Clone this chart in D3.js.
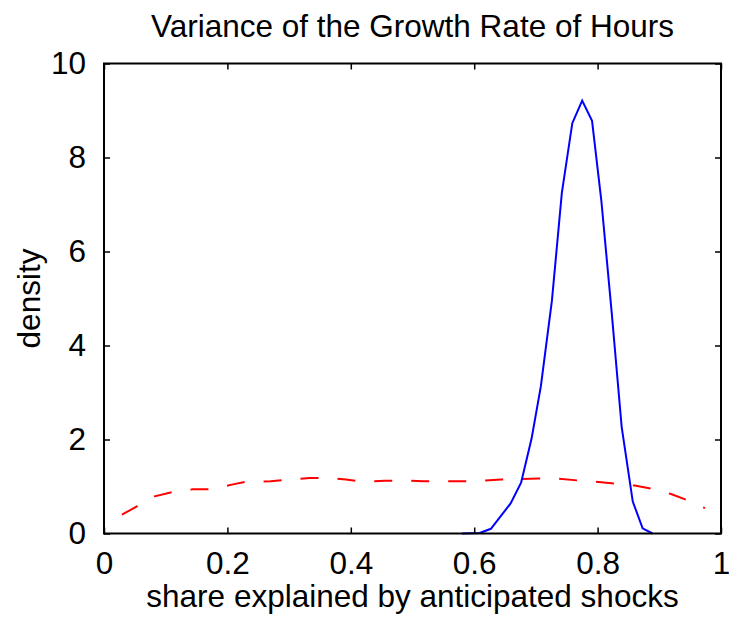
<!DOCTYPE html>
<html>
<head>
<meta charset="utf-8">
<script src="https://cdn.jsdelivr.net/npm/d3@7"></script>
<style>
  body { margin: 0; background: #fff; }
  svg { display: block; font-family: "Liberation Sans", Arial, Helvetica, sans-serif; }
</style>
</head>
<body>
<svg width="729" height="620"></svg>
<script>
// anticipated-shock share, posterior density (blue solid)
const postX = [0.580, 0.609, 0.627, 0.659, 0.676, 0.693, 0.708, 0.726, 0.742, 0.759,
               0.775, 0.791, 0.806, 0.823, 0.839, 0.857, 0.873, 0.889];
const postY = [0.00, 0.01, 0.10, 0.64, 1.08, 2.02, 3.13, 4.96, 7.24, 8.73,
               9.21, 8.78, 7.09, 4.68, 2.27, 0.68, 0.11, 0.00];

// prior density (red dashed)
const priorX = [0.029, 0.054, 0.082, 0.114, 0.144, 0.173, 0.207, 0.230, 0.270, 0.299,
                0.333, 0.359, 0.392, 0.422, 0.455, 0.485, 0.518, 0.545, 0.578, 0.611,
                0.644, 0.674, 0.704, 0.734, 0.767, 0.797, 0.830, 0.860, 0.890, 0.919,
                0.949, 0.974];
const priorY = [0.40, 0.58, 0.79, 0.89, 0.94, 0.94, 1.04, 1.10, 1.11, 1.15,
                1.18, 1.18, 1.15, 1.10, 1.12, 1.13, 1.11, 1.11, 1.11, 1.12,
                1.15, 1.16, 1.17, 1.17, 1.13, 1.10, 1.06, 1.02, 0.95, 0.84,
                0.69, 0.54];

const xTicks = [0, 0.2, 0.4, 0.6, 0.8, 1];
const yTicks = [0, 2, 4, 6, 8, 10];

const titleText = "Variance of the Growth Rate of Hours";
const xLabel = "share explained by anticipated shocks";
const yLabel = "density";

const svg = d3.select("svg");
const plotL = 104, plotR = 721, plotT = 63.5, plotB = 533.5;
const fontPx = "31.5px";

const x = d3.scaleLinear().domain([0, 1]).range([plotL, plotR]);
const y = d3.scaleLinear().domain([0, 10]).range([plotB, plotT]);

const line = d3.line().x(d => x(d[0])).y(d => y(d[1]));

// curves first, box on top
svg.append("path")
  .datum(priorX.map((v, i) => [v, priorY[i]]))
  .attr("d", line)
  .attr("fill", "none")
  .attr("stroke", "#ff0000")
  .attr("stroke-width", 2)
  .attr("stroke-dasharray", "18,19");

svg.append("path")
  .datum(postX.map((v, i) => [v, postY[i]]))
  .attr("d", line)
  .attr("fill", "none")
  .attr("stroke", "#0000ff")
  .attr("stroke-width", 2);

// axes with inward ticks on all four sides
const tickLen = 6;
const fmt = d => d === 0 || d === 1 ? String(d) : d3.format(".1f")(d);

const xAxisB = svg.append("g").attr("transform", `translate(0,${plotB})`)
  .call(d3.axisBottom(x).tickValues(xTicks).tickSize(-tickLen).tickFormat(fmt));
const xAxisT = svg.append("g").attr("transform", `translate(0,${plotT})`)
  .call(d3.axisTop(x).tickValues(xTicks).tickSize(-tickLen).tickFormat(""));
const yAxisL = svg.append("g").attr("transform", `translate(${plotL},0)`)
  .call(d3.axisLeft(y).tickValues(yTicks).tickSize(-tickLen).tickPadding(12 + tickLen));
const yAxisR = svg.append("g").attr("transform", `translate(${plotR},0)`)
  .call(d3.axisRight(y).tickValues(yTicks).tickSize(-tickLen).tickFormat(""));

[xAxisB, xAxisT, yAxisL, yAxisR].forEach(g => {
  g.attr("font-family", null).attr("font-size", null);
  g.select(".domain").remove();
  g.selectAll(".tick line").attr("stroke", "#000").attr("stroke-width", 1.5);
  g.selectAll("text").attr("fill", "#000").style("font-size", fontPx);
});
xAxisB.selectAll("text").attr("dy", null).attr("y", 40);

svg.append("rect")
  .attr("x", plotL).attr("y", plotT)
  .attr("width", plotR - plotL).attr("height", plotB - plotT)
  .attr("fill", "none").attr("stroke", "#000").attr("stroke-width", 2);

svg.append("text")
  .attr("x", (plotL + plotR) / 2).attr("y", 37)
  .attr("text-anchor", "middle").style("font-size", fontPx)
  .text(titleText);

svg.append("text")
  .attr("x", (plotL + plotR) / 2).attr("y", 607)
  .attr("text-anchor", "middle").style("font-size", fontPx)
  .text(xLabel);

svg.append("text")
  .attr("transform", `translate(40,${(plotT + plotB) / 2}) rotate(-90)`)
  .attr("text-anchor", "middle").style("font-size", fontPx)
  .text(yLabel);
</script>
</body>
</html>
